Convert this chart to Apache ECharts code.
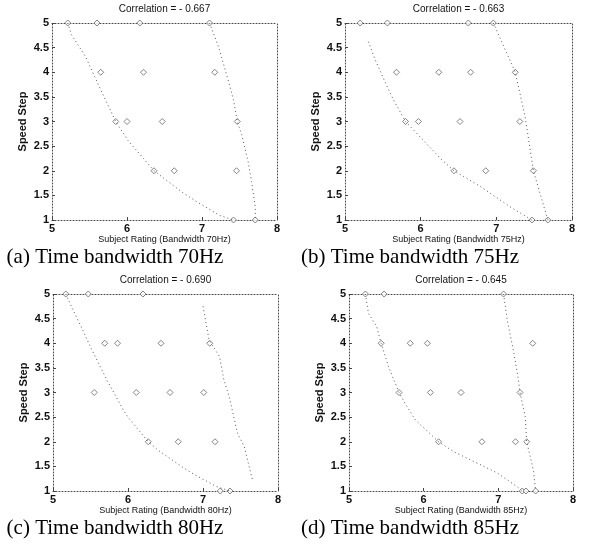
<!DOCTYPE html>
<html>
<head>
<meta charset="utf-8">
<script src="https://cdn.jsdelivr.net/npm/echarts@6/dist/echarts.min.js"></script>
<style>
html,body{margin:0;padding:0;background:#fff;}
#chart{width:597px;height:546px;}
</style>
</head>
<body>
<div id="chart"></div>
<script>
// ---- data ----
var xTicks = [5, 6, 7, 8];
var yTicks = [1, 1.5, 2, 2.5, 3, 3.5, 4, 4.5, 5];
var correlations = ['Correlation = - 0.667', 'Correlation = - 0.663', 'Correlation = - 0.690', 'Correlation = - 0.645'];
var xNames = ['Subject Rating (Bandwidth 70Hz)', 'Subject Rating (Bandwidth 75Hz)', 'Subject Rating (Bandwidth 80Hz)', 'Subject Rating (Bandwidth 85Hz)'];
var captions = ['(a) Time bandwidth 70Hz', '(b) Time bandwidth 75Hz', '(c) Time bandwidth 80Hz', '(d) Time bandwidth 85Hz'];

var pointsA = [[5.21,5],[5.6,5],[6.17,5],[7.1,5],[5.65,4],[6.22,4],[7.17,4],[5.85,3],[6.0,3],[6.47,3],[7.47,3],[6.36,2],[6.63,2],[7.46,2],[7.42,1],[7.71,1]];
var leftA = [[5.21,5],[5.26,4.76],[5.45,4.31],[5.65,3.64],[5.85,3],[6.01,2.62],[6.22,2.25],[6.36,2],[6.73,1.57],[6.93,1.37],[7.24,1.09],[7.42,1]];
var rightA = [[7.1,5],[7.22,4.52],[7.33,3.94],[7.42,3.44],[7.47,3],[7.53,2.73],[7.62,2.15],[7.66,1.78],[7.71,1.27],[7.71,1]];

var pointsB = [[5.2,5],[5.56,5],[6.63,5],[6.96,5],[5.68,4],[6.24,4],[6.66,4],[7.25,4],[5.8,3],[5.97,3],[6.52,3],[7.31,3],[6.44,2],[6.86,2],[7.49,2],[7.47,1],[7.68,1]];
var leftB = [[5.31,4.62],[5.4,4.25],[5.53,3.8],[5.64,3.44],[5.8,3],[6.28,2.22],[6.44,2],[6.79,1.68],[7.18,1.27],[7.47,1]];
var rightB = [[6.96,5],[7.14,4.38],[7.25,4],[7.38,3.1],[7.49,2],[7.68,1]];

var pointsC = [[5.17,5],[5.47,5],[6.2,5],[5.69,4],[5.86,4],[6.44,4],[7.09,4],[5.55,3],[6.11,3],[6.56,3],[7.01,3],[6.27,2],[6.67,2],[7.16,2],[7.23,1],[7.36,1]];
var leftC = [[5.17,5],[5.25,4.73],[5.38,4.32],[5.52,3.86],[5.72,3.25],[5.94,2.64],[6.0,2.5],[6.27,2],[6.4,1.83],[6.75,1.46],[6.89,1.33],[7.18,1.09],[7.36,1]];
var rightC = [[7.0,4.75],[7.08,4.07],[7.22,3.73],[7.28,3.25],[7.35,2.91],[7.46,2.17],[7.55,1.9],[7.66,1.22]];

var pointsD = [[5.22,5],[5.47,5],[7.07,5],[5.43,4],[5.82,4],[6.05,4],[7.46,4],[5.67,3],[6.09,3],[6.5,3],[7.29,3],[6.2,2],[6.78,2],[7.23,2],[7.38,2],[7.32,1],[7.37,1],[7.5,1]];
var leftD = [[5.22,5],[5.26,4.61],[5.37,4.34],[5.43,4],[5.53,3.52],[5.67,3],[5.75,2.78],[5.89,2.44],[6.2,2],[6.4,1.8],[6.67,1.6],[6.98,1.37],[7.25,1.09],[7.32,1]];
var rightD = [[7.07,5],[7.12,4.47],[7.21,3.79],[7.27,3.25],[7.29,3],[7.36,2.51],[7.38,2],[7.47,1.42],[7.5,1]];

var allPoints = [pointsA, pointsB, pointsC, pointsD];
var allLeft = [leftA, leftB, leftC, leftD];
var allRight = [rightA, rightB, rightC, rightD];

// ---- layout ----
var grids = [
  {left: 52, top: 23, width: 225, height: 197},
  {left: 345, top: 23, width: 227, height: 197},
  {left: 53, top: 294, width: 225, height: 197},
  {left: 349, top: 294, width: 224, height: 197}
];
var frameStyle = {color: '#444', width: 1, type: [1, 2]};
var labelFont = {fontFamily: 'Liberation Sans, Arial', fontSize: 11, color: '#111', fontWeight: 'bold'};

var xAxes = [], yAxes = [], series = [], graphics = [];
grids.forEach(function (g, i) {
  xAxes.push({
    gridIndex: i, type: 'value', min: xTicks[0], max: xTicks[xTicks.length - 1], interval: 1,
    position: 'bottom',
    name: xNames[i], nameLocation: 'middle', nameGap: 12,
    nameTextStyle: {fontFamily: 'Liberation Sans, Arial', fontSize: 9, color: '#111'},
    axisLine: {show: true, lineStyle: frameStyle},
    axisTick: {show: true, inside: true, length: 3, lineStyle: {color: '#444'}},
    axisLabel: Object.assign({margin: 3}, labelFont),
    splitLine: {show: false}
  });
  xAxes.push({
    gridIndex: i, type: 'value', min: 5, max: 8, interval: 1, position: 'top',
    axisLine: {show: true, lineStyle: frameStyle},
    axisTick: {show: false}, axisLabel: {show: false}, splitLine: {show: false}
  });
  yAxes.push({
    gridIndex: i, type: 'value', min: yTicks[0], max: yTicks[yTicks.length - 1], interval: 0.5,
    position: 'left',
    name: 'Speed Step', nameLocation: 'middle', nameGap: 24, nameRotate: 90,
    nameTextStyle: {fontFamily: 'Liberation Sans, Arial', fontSize: 11, color: '#111', fontWeight: 'bold'},
    axisLine: {show: true, lineStyle: frameStyle},
    axisTick: {show: true, inside: true, length: 3, lineStyle: {color: '#444'}},
    axisLabel: Object.assign({margin: 3}, labelFont),
    splitLine: {show: false}
  });
  yAxes.push({
    gridIndex: i, type: 'value', min: 1, max: 5, interval: 0.5, position: 'right',
    axisLine: {show: true, lineStyle: frameStyle},
    axisTick: {show: false}, axisLabel: {show: false}, splitLine: {show: false}
  });
  series.push({
    type: 'line', xAxisIndex: 2 * i, yAxisIndex: 2 * i, data: allLeft[i],
    showSymbol: false, symbol: 'none', silent: true,
    lineStyle: {color: '#555', width: 1, type: [1, 3]}
  });
  series.push({
    type: 'line', xAxisIndex: 2 * i, yAxisIndex: 2 * i, data: allRight[i],
    showSymbol: false, symbol: 'none', silent: true,
    lineStyle: {color: '#555', width: 1, type: [1, 3]}
  });
  series.push({
    type: 'scatter', xAxisIndex: 2 * i, yAxisIndex: 2 * i, data: allPoints[i],
    symbol: 'diamond', symbolSize: 6,
    itemStyle: {color: '#fff', borderColor: '#666', borderWidth: 1}
  });
  var cx = g.left + g.width / 2;
  graphics.push({
    type: 'text', x: cx, y: g.top - 14,
    style: {text: correlations[i], fontFamily: 'Liberation Sans, Arial', fontSize: 10, fill: '#111', textAlign: 'center', textVerticalAlign: 'middle'}
  });
});
var capPos = [[115, 257], [410, 257], [115, 528], [410, 528]];
captions.forEach(function (c, i) {
  graphics.push({
    type: 'text', x: capPos[i][0], y: capPos[i][1],
    style: {text: c, fontFamily: 'Liberation Serif, Times New Roman', fontSize: 21, fill: '#000', textAlign: 'center', textVerticalAlign: 'middle'}
  });
});

var chart = echarts.init(document.getElementById('chart'));
chart.setOption({
  animation: false,
  backgroundColor: '#fff',
  grid: grids,
  xAxis: xAxes,
  yAxis: yAxes,
  series: series,
  graphic: graphics
});
</script>
</body>
</html>
